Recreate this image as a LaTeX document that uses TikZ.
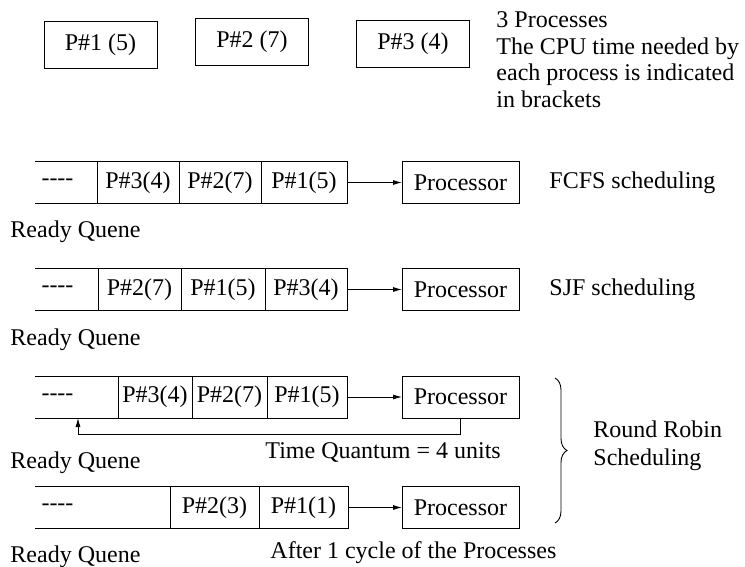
\documentclass[tikz,border=0pt]{standalone}
\usepackage{fontspec}
\setmainfont{LiberationSerif}[Extension=.ttf, UprightFont=*-Regular, BoldFont=*-Bold,
    ItalicFont=*-Italic, BoldItalicFont=*-BoldItalic]
\usepackage{tikz}
\usetikzlibrary{positioning, decorations.pathreplacing, arrows.meta}

\begin{document}
\begin{tikzpicture}[>={Latex[length=9pt,width=5pt]}, x=1pt, y=-1pt, line width=0.9pt,
    every node/.style={font=\rmfamily\fontsize{24}{26.5}\selectfont},
    pbox/.style={draw, minimum width=113pt, minimum height=47pt, inner sep=0pt},
    cell/.style={draw, minimum height=42pt, inner sep=0pt, outer sep=0pt},
    cpu/.style={draw, minimum width=117pt, minimum height=42pt, inner sep=0pt, outer sep=0pt},
    lbl/.style={inner sep=0pt}]
    \useasboundingbox (0,0) rectangle (745,567);

    % Ba tiến trình
    \node[pbox] (p1) at (100.5,44.5) {P\#1 (5)};
    \node[pbox] (p2) at (252,41.5) {P\#2 (7)};
    \node[pbox] (p3) at (413,44) {P\#3 (4)};
    \node[lbl, anchor=north west, align=left] (info) at (496,11.5)
        {3 Processes\\The CPU time needed by\\each process is indicated\\in brackets};

    % FCFS
    \node[lbl] (d1) at (57.5,182.5) {-{}-{}-{}-};
    \node[cell, minimum width=82pt] (a1) at (138,182.5) {P\#3(4)};
    \node[cell, minimum width=82pt, right=0pt of a1] (b1) {P\#2(7)};
    \node[cell, minimum width=86pt, right=0pt of b1] (c1) {P\#1(5)};
    \node[cpu, right=55pt of c1] (cpu1) {Processor};
    \node[lbl, right=30pt of cpu1] (fcfs) {FCFS scheduling};
    \draw (a1.north west) -- ++(-62,0);
    \draw (a1.south west) -- ++(-62,0);
    \draw[->] (c1) -- (cpu1);
    \node[lbl, anchor=base west] (rq1) at (10,237) {Ready Quene};

    % SJF
    \node[lbl] (d2) at (57.5,289.5) {-{}-{}-{}-};
    \node[cell, minimum width=83pt] (a2) at (139.5,289.5) {P\#2(7)};
    \node[cell, minimum width=84pt, right=0pt of a2] (b2) {P\#1(5)};
    \node[cell, minimum width=82pt, right=0pt of b2] (c2) {P\#3(4)};
    \node[cpu, right=55pt of c2] (cpu2) {Processor};
    \node[lbl, right=30pt of cpu2] (sjf) {SJF scheduling};
    \draw (a2.north west) -- ++(-63,0);
    \draw (a2.south west) -- ++(-63,0);
    \draw[->] (c2) -- (cpu2);
    \node[lbl, anchor=base west] (rq2) at (10,345) {Ready Quene};

    % Round Robin
    \node[lbl] (d3) at (57.5,397) {-{}-{}-{}-};
    \node[cell, minimum width=74pt] (a3) at (155,397) {P\#3(4)};
    \node[cell, minimum width=75pt, right=0pt of a3] (b3) {P\#2(7)};
    \node[cell, minimum width=80pt, right=0pt of b3] (c3) {P\#1(5)};
    \node[cpu, right=55pt of c3] (cpu3) {Processor};
    \draw (a3.north west) -- ++(-83,0);
    \draw (a3.south west) -- ++(-83,0);
    \draw[->] (c3) -- (cpu3);
    \coordinate (ret) at (78,434);
    \draw[->] (cpu3.south) |- (ret) -- (ret |- a3.south);
    \node[lbl, anchor=base west] (tq) at (265,458) {Time Quantum = 4 units};
    \node[lbl, anchor=base west] (rq3) at (10,468) {Ready Quene};

    \node[lbl] (d4) at (57.5,507.5) {-{}-{}-{}-};
    \node[cell, minimum width=89pt] (a4) at (214.5,507.5) {P\#2(3)};
    \node[cell, minimum width=89pt, right=0pt of a4] (b4) {P\#1(1)};
    \node[cpu, right=54pt of b4] (cpu4) {Processor};
    \draw (a4.north west) -- ++(-135,0);
    \draw (a4.south west) -- ++(-135,0);
    \draw[->] (b4) -- (cpu4);
    \node[lbl, anchor=base west] (cyc) at (270,558) {After 1 cycle of the Processes};
    \node[lbl, anchor=base west] (rq4) at (10,562) {Ready Quene};

    \draw[decorate, decoration={brace, amplitude=12pt}] (555,378) -- (555,523);
    \node[lbl, anchor=north west, align=left, font=\rmfamily\fontsize{24}{28}\selectfont] (rr)
        at (593,420.5) {Round Robin\\Scheduling};
\end{tikzpicture}
\end{document}
